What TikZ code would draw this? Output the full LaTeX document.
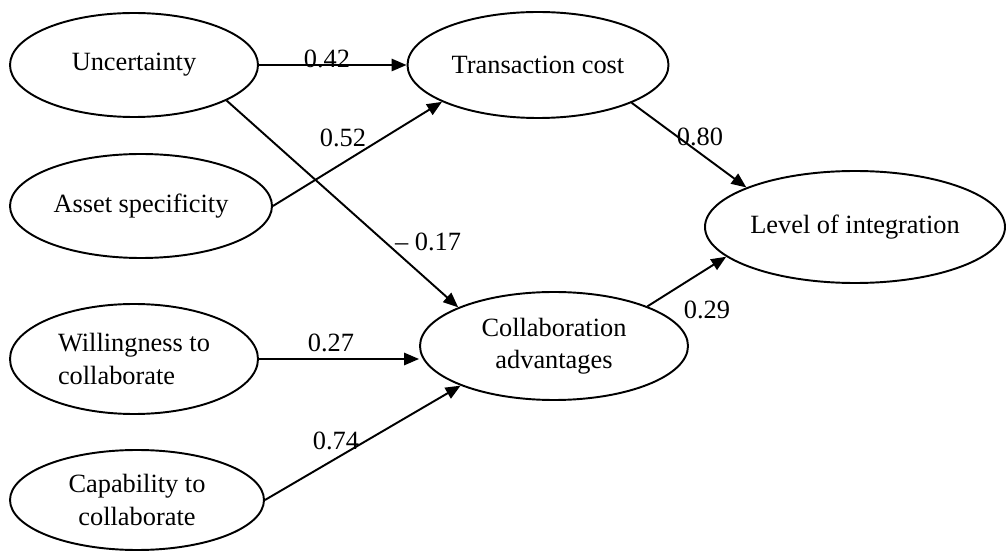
\documentclass[tikz,border=0pt]{standalone}
\usepackage{fontspec}
\setmainfont{Liberation Serif}
\usetikzlibrary{arrows.meta}
\usetikzlibrary{shapes.geometric}

\begin{document}
\begin{tikzpicture}[
  var/.style={draw, ellipse, line width=1.1pt, inner sep=0pt, font=\fontsize{15}{18.5}\selectfont},
  path/.style={-{Triangle[length=8.5pt,width=7pt]}, line width=1.1pt},
  coef/.style={font=\fontsize{15}{18}\selectfont, inner sep=0pt}
]
\useasboundingbox (0,0) rectangle (20.14,11.02);

% latent variables
\node[var, minimum width=4.96cm, minimum height=2.08cm] (unc) at (2.68,9.72) {Uncertainty};
\node[var, minimum width=5.24cm, minimum height=2.08cm] (asset) at (2.82,6.90) {Asset specificity};
\node[var, minimum width=4.96cm, minimum height=2.2cm, align=left] (will) at (2.68,3.84) {Willingness to\\collaborate};
\node[var, minimum width=5.08cm, minimum height=2.0cm, align=center] (cap) at (2.74,1.02) {Capability to\\collaborate};
\node[var, minimum width=5.22cm, minimum height=2.12cm] (tc) at (10.76,9.72) {Transaction cost};
\node[var, minimum width=5.36cm, minimum height=2.16cm, align=center] (ca) at (11.08,4.10) {Collaboration\\advantages};
\node[var, minimum width=6.0cm, minimum height=2.24cm] (loi) at (17.10,6.48) {Level of integration};

% paths
\draw[path] (unc) -- (tc);
\draw[path] (asset.east) -- (tc.201);
\draw[path] (unc.-21) -- (ca.158);
\draw[path] (will.east) -- (will.east -| ca.west);
\draw[path] (cap.east) -- (ca.203);
\draw[path] (tc.-22) -- (loi.160);
\draw[path] (ca.23) -- (loi.193);

% coefficients
\node[coef, anchor=base] (c1) at (6.54,9.66) {0.42};
\node[coef] (c2) at (6.86,8.26) {0.52};
\node[coef] (c3) at (8.56,6.18) {\textendash\ 0.17};
\node[coef] (c4) at (6.62,4.16) {0.27};
\node[coef] (c5) at (6.72,2.20) {0.74};
\node[coef] (c6) at (14.00,8.28) {0.80};
\node[coef] (c7) at (14.14,4.82) {0.29};

\end{tikzpicture}
\end{document}
